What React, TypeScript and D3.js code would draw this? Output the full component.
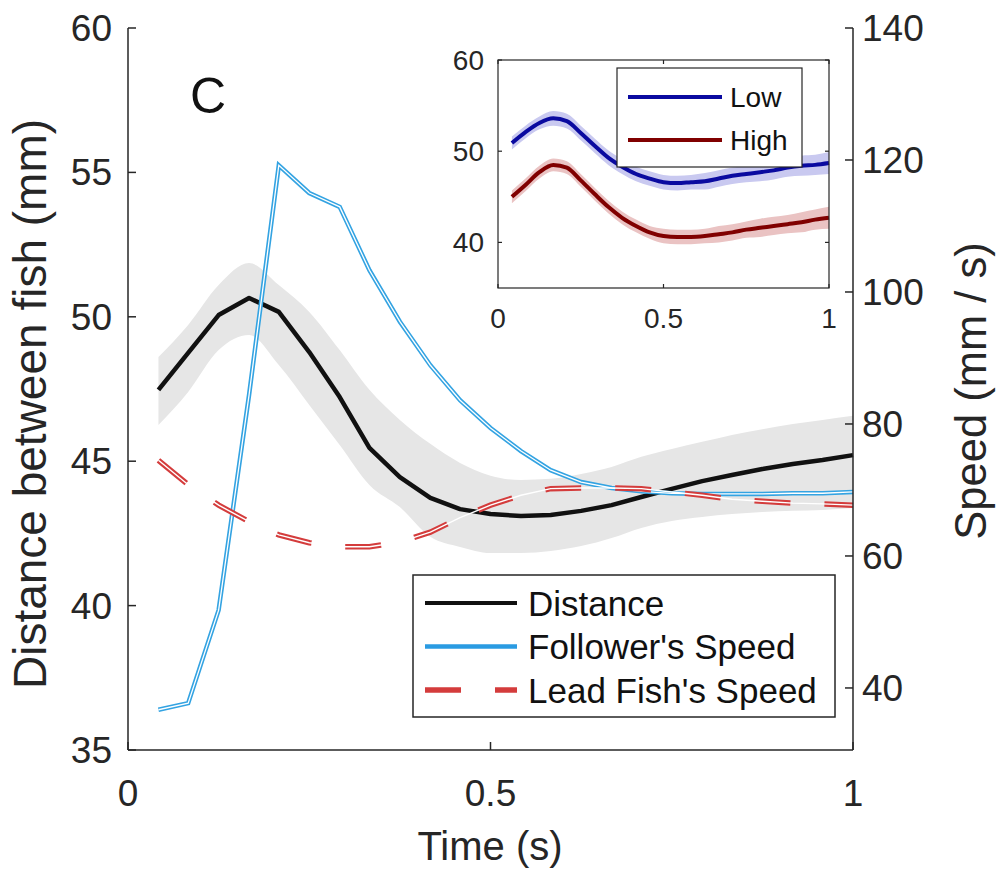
import * as d3 from "d3";

// sample times (s)
const timeS = [0.042, 0.083, 0.125, 0.167, 0.208, 0.25, 0.292, 0.333, 0.375, 0.417, 0.458, 0.5,
  0.542, 0.583, 0.625, 0.667, 0.708, 0.75, 0.792, 0.833, 0.875, 0.917, 0.958, 1.0];

// distance between fish (mm), mean and shaded band
const distance = [47.47, 48.75, 50.06, 50.65, 50.17, 48.78, 47.22, 45.46, 44.45, 43.73, 43.34, 43.17,
  43.10, 43.14, 43.28, 43.48, 43.76, 44.04, 44.31, 44.52, 44.73, 44.90, 45.04, 45.21];
const distUpper = [48.61, 49.72, 51.10, 51.86, 51.10, 50.17, 48.85, 47.47, 46.43, 45.60, 44.94, 44.50,
  44.35, 44.39, 44.56, 44.80, 45.15, 45.42, 45.67, 45.91, 46.11, 46.29, 46.43, 46.57];
const distLower = [46.25, 47.40, 48.85, 49.37, 48.33, 46.95, 45.56, 44.18, 43.41, 42.38, 42.03, 41.82,
  41.82, 41.89, 42.06, 42.34, 42.69, 42.93, 43.07, 43.17, 43.24, 43.28, 43.31, 43.38];

// speeds (mm / s)
const followerSpeed = [36.7, 37.7, 51.8, 84.4, 119.2, 115.0, 112.9, 103.3, 95.5, 88.9, 83.6, 79.4,
  75.9, 73.0, 71.2, 70.3, 69.8, 69.5, 69.4, 69.4, 69.4, 69.5, 69.5, 69.7];
const leadSpeed = [74.5, 70.8, 67.7, 65.2, 63.2, 62.0, 61.4, 61.4, 62.1, 63.6, 65.8, 67.7,
  69.2, 70.2, 70.3, 70.3, 70.2, 69.7, 69.2, 68.6, 68.3, 68.0, 67.9, 67.7];

// inset: distance by group
const lowDist = [50.9, 52.1, 53.1, 53.6, 53.3, 52.0, 50.6, 49.3, 48.3, 47.5, 47.0, 46.6,
  46.5, 46.6, 46.7, 47.0, 47.3, 47.5, 47.7, 47.9, 48.2, 48.4, 48.5, 48.7];
const lowCI = [0.7, 0.7, 0.7, 0.8, 0.8, 0.8, 0.8, 0.8, 0.8, 0.8, 0.8, 0.8,
  0.8, 0.8, 0.9, 0.9, 0.9, 0.9, 1.0, 1.0, 1.0, 1.1, 1.1, 1.2];
const highDist = [45.0, 46.3, 47.7, 48.5, 48.2, 46.8, 45.3, 43.9, 42.7, 41.8, 41.1, 40.7,
  40.6, 40.6, 40.7, 40.9, 41.1, 41.4, 41.6, 41.8, 42.0, 42.2, 42.5, 42.7];
const highCI = [0.7, 0.7, 0.7, 0.7, 0.7, 0.7, 0.7, 0.7, 0.7, 0.7, 0.7, 0.8,
  0.8, 0.8, 0.8, 0.9, 0.9, 0.9, 1.0, 1.0, 1.0, 1.1, 1.1, 1.2];

const xTicks = [0, 0.5, 1];
const leftTicks = [35, 40, 45, 50, 55, 60];
const rightTicks = [40, 60, 80, 100, 120, 140];
const insetYTicks = [40, 50, 60];

const legendItems = ["Distance", "Follower's Speed", "Lead Fish's Speed"];
const insetLegend = ["Low", "High"];

const font = "'Liberation Sans', Arial, Helvetica, sans-serif";
const axisColor = "#262626";
const red = "#d43c3c";
const blue = "#33a3e2";

export default function App() {
  const x = d3.scaleLinear().domain([0, 1]).range([128, 853]);
  const yL = d3.scaleLinear().domain([35, 60]).range([750, 28]);
  const yR = d3.scaleLinear().domain([30.6, 140]).range([750, 28]);

  const xi = d3.scaleLinear().domain([0, 1]).range([498, 829]);
  const yi = d3.scaleLinear().domain([35, 60]).range([288, 60]);

  const distLine = d3.line<number>().x((_, i) => x(timeS[i])).y(d => yL(d));
  const distBand = d3.area<number>()
    .curve(d3.curveMonotoneX)
    .x((_, i) => x(timeS[i]))
    .y0((_, i) => yL(distLower[i]))
    .y1((_, i) => yL(distUpper[i]));
  const speedLine = d3.line<number>().x((_, i) => x(timeS[i])).y(d => yR(d));

  const insetLine = d3.line<number>().curve(d3.curveMonotoneX).x((_, i) => xi(timeS[i])).y(d => yi(d));
  const insetBand = (vals: number[], ci: number[]) => d3.area<number>()
    .curve(d3.curveMonotoneX)
    .x((_, i) => xi(timeS[i]))
    .y0((d, i) => yi(d - ci[i]))
    .y1((d, i) => yi(d + ci[i]))(vals);

  const tick = 8;

  return (
    <svg width={1002} height={872} style={{ position: "absolute", left: 0, top: 0, background: "#fff" }}
      fontFamily={font}>
      {/* band + lines */}
      <path d={distBand(distance) ?? ""} fill="#e6e6e6" />
      <path d={distLine(distance) ?? ""} fill="none" stroke="#111" strokeWidth={4.5} strokeLinejoin="round" />
      <path d={speedLine(followerSpeed) ?? ""} fill="none" stroke={blue} strokeWidth={4.5} />
      <path d={speedLine(followerSpeed) ?? ""} fill="none" stroke="#fff" strokeWidth={1.3} />
      <path d={speedLine(leadSpeed) ?? ""} fill="none" stroke={red} strokeWidth={5.5} strokeDasharray="36 34" />
      <path d={speedLine(leadSpeed) ?? ""} fill="none" stroke="#fff" strokeWidth={1.4} />

      {/* main axes */}
      <g stroke={axisColor} strokeWidth={1.5} fill="none">
        <line x1={128} x2={128} y1={28} y2={750} />
        <line x1={853} x2={853} y1={28} y2={750} />
        <line x1={128} x2={853} y1={750} y2={750} />
        {leftTicks.map(t => <line key={"l" + t} x1={128} x2={128 + tick} y1={yL(t)} y2={yL(t)} />)}
        {rightTicks.map(t => <line key={"r" + t} x1={853} x2={853 - tick} y1={yR(t)} y2={yR(t)} />)}
        {xTicks.map(t => <line key={"x" + t} x1={x(t)} x2={x(t)} y1={750} y2={750 - tick} />)}
      </g>
      <g fill={axisColor} fontSize={37}>
        {leftTicks.map(t => <text key={t} x={112} y={yL(t) + 13} textAnchor="end">{t}</text>)}
        {rightTicks.map(t => <text key={t} x={862} y={yR(t) + 13}>{t}</text>)}
        {xTicks.map(t => <text key={t} x={x(t)} y={806} textAnchor="middle">{t}</text>)}
      </g>
      <g fill={axisColor}>
        <text x={490} y={860} fontSize={40} textAnchor="middle">Time (s)</text>
        <text transform="translate(46,404) rotate(-90)" fontSize={46} textAnchor="middle">Distance between fish (mm)</text>
        <text transform="translate(986,391) rotate(-90)" fontSize={43.5} textAnchor="middle">Speed (mm / s)</text>
      </g>
      <text x={190} y={113} fontSize={50} fill="#111">C</text>

      {/* main legend */}
      <rect x={413} y={575} width={422} height={142} fill="#fff" stroke={axisColor} strokeWidth={1.5} />
      {legendItems.map((name, i) => {
        const cy = 603 + i * 43.5;
        return (
          <g key={name}>
            {i === 0 && <line x1={425} x2={517} y1={cy} y2={cy} stroke="#111" strokeWidth={4} />}
            {i === 1 && <line x1={425} x2={517} y1={cy} y2={cy} stroke="#2a9be2" strokeWidth={4.5} />}
            {i === 2 && <line x1={425} x2={517} y1={cy} y2={cy} stroke={red} strokeWidth={5.5} strokeDasharray="36 34" />}
            <text x={528} y={cy + 12.5} fontSize={35} fill="#111">{name}</text>
          </g>
        );
      })}

      {/* inset */}
      <rect x={498} y={60} width={331} height={228} fill="#fff" />
      <path d={insetBand(lowDist, lowCI) ?? ""} fill="#c9c9f0" />
      <path d={insetBand(highDist, highCI) ?? ""} fill="#eac3c3" />
      <path d={insetLine(lowDist) ?? ""} fill="none" stroke="#0a0aa0" strokeWidth={4} />
      <path d={insetLine(highDist) ?? ""} fill="none" stroke="#800000" strokeWidth={4} />
      <g stroke={axisColor} strokeWidth={1.2} fill="none">
        <rect x={498} y={60} width={331} height={228} />
        {insetYTicks.map(t => (
          <g key={t}>
            <line x1={498} x2={502} y1={yi(t)} y2={yi(t)} />
            <line x1={829} x2={825} y1={yi(t)} y2={yi(t)} />
          </g>
        ))}
        {xTicks.map(t => (
          <g key={t}>
            <line x1={xi(t)} x2={xi(t)} y1={288} y2={284} />
            <line x1={xi(t)} x2={xi(t)} y1={60} y2={64} />
          </g>
        ))}
      </g>
      <g fill={axisColor} fontSize={28}>
        {insetYTicks.map(t => <text key={t} x={484} y={yi(t) + 10} textAnchor="end">{t}</text>)}
        {xTicks.map(t => <text key={t} x={xi(t)} y={328} textAnchor="middle">{t}</text>)}
      </g>
      <rect x={617} y={68} width={185} height={99} fill="#fff" stroke={axisColor} strokeWidth={1.2} />
      {insetLegend.map((name, i) => {
        const cy = 97 + i * 43;
        return (
          <g key={name}>
            <line x1={628} x2={722} y1={cy} y2={cy} stroke={i === 0 ? "#0a0aa0" : "#800000"} strokeWidth={4} />
            <text x={730} y={cy + 10} fontSize={28} fill="#111">{name}</text>
          </g>
        );
      })}
    </svg>
  );
}
